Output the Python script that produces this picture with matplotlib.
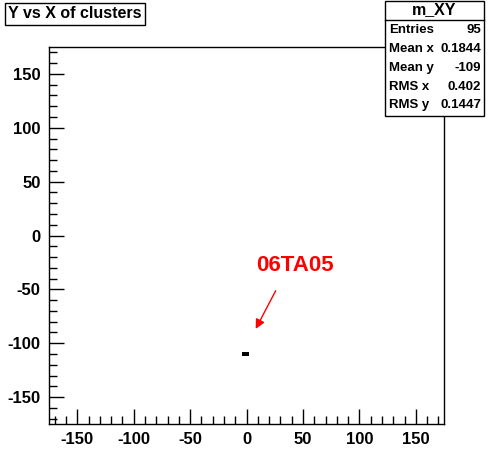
import matplotlib
matplotlib.use("Agg")
import matplotlib.pyplot as plt
from matplotlib.patches import Rectangle
from matplotlib.ticker import MultipleLocator

plt.rcParams['font.family'] = ['Liberation Sans', 'DejaVu Sans']
plt.rcParams['font.weight'] = 'bold'
plt.rcParams['axes.unicode_minus'] = False

# cluster hits (bin centres) in the 2D histogram
cluster_x = [-2.25, 0.75]
cluster_y = [-110.0, -110.0]
bin_w = 3.0
bin_h = 3.4
axis_range = [-175, 175]
tick_values = [-150, -100, -50, 0, 50, 100, 150]
stats_names = ["Entries", "Mean x", "Mean y", "RMS x", "RMS y"]
stats_values = ["95", "0.1844", "-109", "0.402", "0.1447"]
label_text = "06TA05"
label_pos = [43, -28]
arrow_start = [27, -49]
arrow_end = [7, -89]

W, H = 494, 472
fig = plt.figure(figsize=(W / 100, H / 100), dpi=100)
ax = fig.add_axes([49 / W, (H - 424) / H, 395 / W, 377 / H])

for cx, cy in zip(cluster_x, cluster_y):
    ax.add_patch(Rectangle((cx - bin_w / 2, cy - bin_h / 2), bin_w, bin_h, color="black", lw=0))

ax.set_xlim(axis_range)
ax.set_ylim(axis_range)
ax.set_xticks(tick_values)
ax.set_yticks(tick_values)
ax.xaxis.set_minor_locator(MultipleLocator(10))
ax.yaxis.set_minor_locator(MultipleLocator(10))
ax.tick_params(which="major", direction="in", length=11, width=1, labelsize=12, pad=6)
ax.tick_params(which="minor", direction="in", length=6, width=1)
ax.tick_params(top=False, right=False)
for lbl in ax.get_xticklabels() + ax.get_yticklabels():
    lbl.set_fontweight("bold")
for s in ax.spines.values():
    s.set_linewidth(1)

ax.text(label_pos[0], label_pos[1], label_text, color="red", fontsize=16,
        fontweight="bold", ha="center", va="center")
ax.annotate("", xy=arrow_end, xytext=arrow_start,
            arrowprops=dict(arrowstyle="-|>", color="red", lw=1, mutation_scale=14))

# title box
fig.patches.append(Rectangle((5 / W, 1 - 25 / H), 140 / W, 22 / H, transform=fig.transFigure,
                             facecolor="white", edgecolor="black", lw=1))
fig.text(75 / W, 1 - 14 / H, "Y vs X of clusters", ha="center", va="center",
         fontsize=11.5, fontweight="bold")

# stats box
fig.patches.append(Rectangle((385 / W, 1 - 116 / H), 99 / W, 115 / H, transform=fig.transFigure,
                             facecolor="white", edgecolor="black", lw=1, zorder=5))
fig.lines.append(plt.Line2D([385 / W, 484 / W], [1 - 20 / H, 1 - 20 / H],
                            transform=fig.transFigure, color="black", lw=1, zorder=6))
fig.text(434 / W, 1 - 10 / H, "m_XY", ha="center", va="center", fontsize=11.5,
         fontweight="bold", zorder=7)
row_y = [30, 49, 68, 87, 105]
for ry, name, val in zip(row_y, stats_names, stats_values):
    fig.text(389 / W, 1 - ry / H, name, ha="left", va="center", fontsize=9.5,
             fontweight="bold", zorder=7)
    fig.text(481 / W, 1 - ry / H, val, ha="right", va="center", fontsize=9.5,
             fontweight="bold", zorder=7)

fig.savefig("out.png", dpi=100)
